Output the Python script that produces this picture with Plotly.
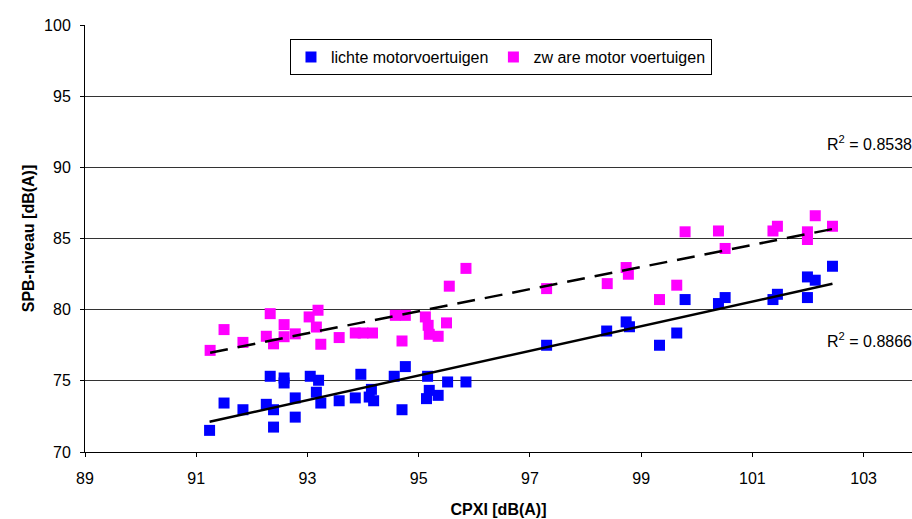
import numpy as np
import plotly.graph_objects as go

# lichte motorvoertuigen (light vehicles)
light_x = [91.24, 91.50, 91.84, 92.33, 92.58, 92.58, 92.26, 92.39, 92.39, 92.78, 92.78,
           93.05, 93.20, 93.16, 93.24, 93.57, 93.86, 93.96, 94.11, 94.19, 94.15,
           94.56, 94.76, 94.70, 95.16, 95.14, 95.19, 95.35, 95.52, 95.85,
           97.30, 98.38, 98.73, 98.79, 99.33, 99.64, 99.79,
           100.39, 100.51, 101.37, 101.45, 101.99, 101.99, 102.13, 102.44]
light_y = [71.52, 73.44, 72.97, 75.32, 75.20, 74.85, 73.35, 72.97, 71.75, 73.80, 72.45,
           75.32, 75.04, 74.20, 73.44, 73.60, 73.80, 75.46, 73.86, 73.60, 74.40,
           75.32, 76.00, 72.97, 75.32, 73.75, 74.33, 73.98, 74.92, 74.92,
           77.50, 78.50, 79.14, 78.80, 77.50, 78.36, 80.71,
           80.43, 80.85, 80.71, 81.08, 82.30, 80.85, 82.07, 83.05]

# zware motorvoertuigen (heavy vehicles)
heavy_x = [91.25, 91.50, 91.84, 92.33, 92.26, 92.39, 92.58, 92.58, 92.78, 93.03, 93.19,
           93.16, 93.24, 93.57, 93.86, 94.00, 94.17, 94.58, 94.76, 94.70, 95.12,
           95.17, 95.19, 95.35, 95.50, 95.55, 95.85,
           97.30, 98.39, 98.73, 98.77, 99.33, 99.64, 99.79,
           100.39, 100.51, 101.37, 101.45, 101.99, 101.99, 102.13, 102.44]
heavy_y = [77.14, 78.60, 77.70, 79.72, 78.13, 77.60, 78.95, 78.10, 78.30, 79.49, 79.96,
           78.78, 77.57, 78.04, 78.36, 78.36, 78.36, 79.60, 79.60, 77.80, 79.49,
           78.90, 78.27, 78.13, 79.07, 81.65, 82.90,
           81.48, 81.83, 82.96, 82.49, 80.71, 81.72, 85.47,
           85.53, 84.30, 85.53, 85.86, 85.47, 84.93, 86.60, 85.86]

r2_heavy = "R<sup>2</sup> = 0.8538"
r2_light = "R<sup>2</sup> = 0.8866"

x_ticks = [89, 91, 93, 95, 97, 99, 101, 103]
y_ticks = [70, 75, 80, 85, 90, 95, 100]

FONT = "Liberation Sans, Arial, sans-serif"

def fit_line(xs, ys):
    xs = np.array(xs); ys = np.array(ys)
    k, b = np.polyfit(xs, ys, 1)
    xx = np.array([xs.min(), xs.max()])
    return xx, k * xx + b

fig = go.Figure()

lx, ly = fit_line(light_x, light_y)
hx, hy = fit_line(heavy_x, heavy_y)

fig.add_trace(go.Scatter(x=light_x, y=light_y, mode="markers", name="lichte motorvoertuigen",
                         marker=dict(symbol="square", size=11, color="#0000FF",
                                     line=dict(width=0))))
fig.add_trace(go.Scatter(x=heavy_x, y=heavy_y, mode="markers", name="zw are motor voertuigen",
                         marker=dict(symbol="square", size=11, color="#FF00FF",
                                     line=dict(width=0))))
fig.add_trace(go.Scatter(x=lx, y=ly, mode="lines", showlegend=False,
                         line=dict(color="black", width=2.5)))
fig.add_trace(go.Scatter(x=hx, y=hy, mode="lines", showlegend=False,
                         line=dict(color="black", width=2.5, dash="18px,10px")))

fig.add_annotation(x=1, xref="paper", xanchor="right", y=91.7, yref="y", yanchor="middle",
                   text=r2_heavy, showarrow=False, xshift=2,
                   font=dict(size=16, color="black", family=FONT))
fig.add_annotation(x=1, xref="paper", xanchor="right", y=77.85, yref="y", yanchor="middle",
                   text=r2_light, showarrow=False, xshift=2,
                   font=dict(size=16, color="black", family=FONT))

fig.update_layout(
    width=912, height=519,
    margin=dict(l=85, r=0, t=25, b=67),
    paper_bgcolor="white", plot_bgcolor="white",
    font=dict(family=FONT, size=16, color="black"),
    showlegend=True,
    legend=dict(orientation="h", x=0.503, xanchor="center", y=0.967, yanchor="top",
                bordercolor="black", borderwidth=1, bgcolor="white",
                font=dict(size=16, family=FONT), itemwidth=30, tracegroupgap=0),
    xaxis=dict(range=[89, 103.87], tickvals=x_ticks, ticks="outside", ticklen=4,
               tickcolor="black", showline=True, linecolor="black", linewidth=1,
               showgrid=False, zeroline=False, ticklabelstandoff=8,
               tickfont=dict(size=16, family=FONT),
               title=dict(text="<b>CPXI [dB(A)]</b>", font=dict(size=16, family=FONT), standoff=17)),
    yaxis=dict(range=[70, 100], tickvals=y_ticks, ticks="outside", ticklen=4,
               tickcolor="black", showline=True, linecolor="black", linewidth=1,
               showgrid=True, gridcolor="#333333", gridwidth=1, zeroline=False,
               ticklabelstandoff=6, tickfont=dict(size=16, family=FONT),
               title=dict(text="<b>SPB-niveau [dB(A)]</b>", font=dict(size=16, family=FONT), standoff=5)),
)

fig.write_html("out.html", config={"displayModeBar": False},
               post_script="document.body.style.margin='0';")
